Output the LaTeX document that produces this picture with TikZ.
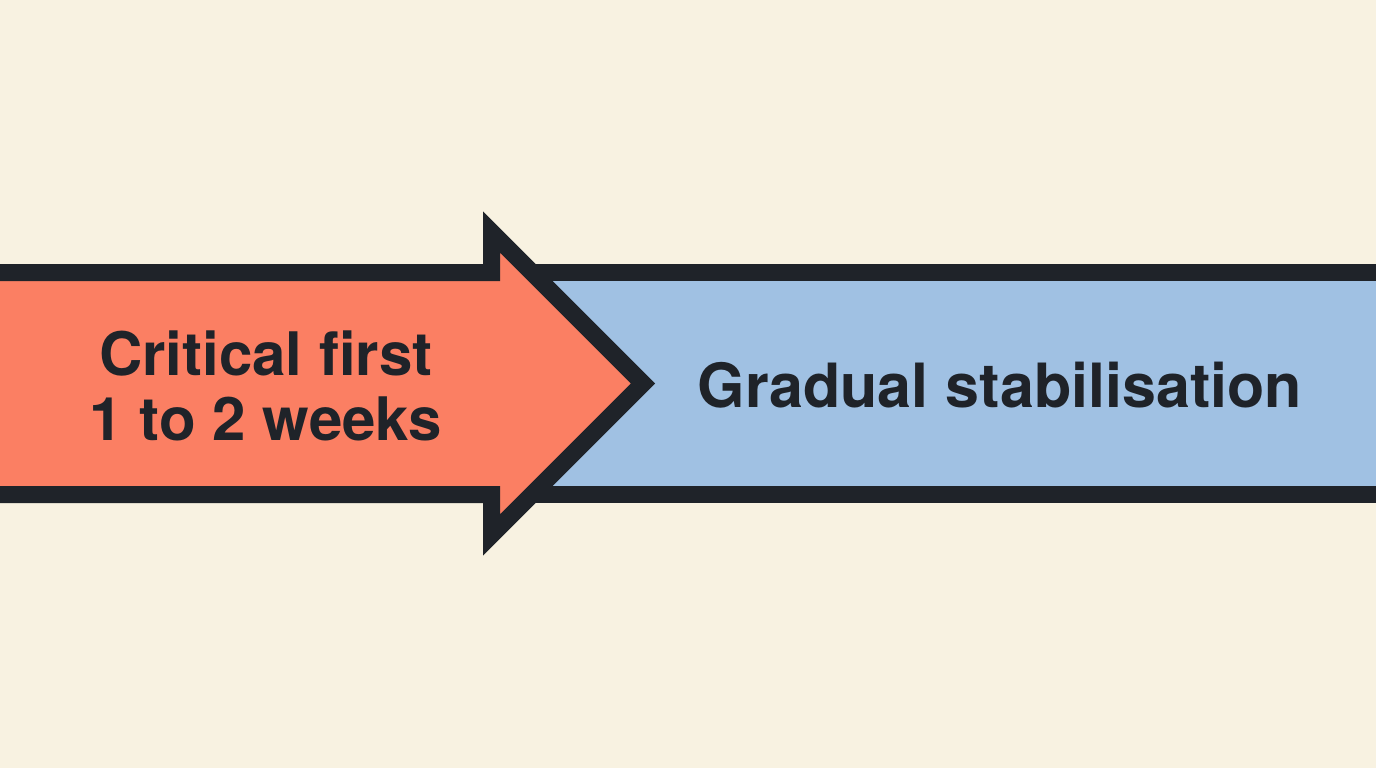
\documentclass[tikz,border=0pt]{standalone}
\usepackage{fontspec}
\setmainfont{TeX Gyre Heros}
\usepackage{tikz}
\usetikzlibrary{positioning}
\definecolor{paper}{HTML}{F8F2E1}
\definecolor{ink}{HTML}{1F2329}
\definecolor{urgent}{HTML}{FB7F63}
\definecolor{calm}{HTML}{A0C1E3}
\tikzset{
  ph band/.style={draw=ink, line width=8.5pt, miter limit=10, line join=miter},
  ph text/.style={text=ink, font=\fontsize{30}{32.5}\selectfont\bfseries, align=center, inner sep=0pt},
}

\begin{document}
\begin{tikzpicture}[x=0.5pt, y=0.5pt]
  % canvas, 1376 x 768
  \fill[paper] (0,0) rectangle (1376,768);
  \useasboundingbox (0,0) rectangle (1376,768);
  \clip (0,0) rectangle (1376,768);
  % later phase: the band running on to the right
  \filldraw[ph band, fill=calm] (-40,273.5) rectangle (1420,495.5);
  % first phase: the arrow pushing into it
  \filldraw[ph band, fill=urgent] (-40,495.5) -- (491.5,495.5) -- (491.5,536) -- (643,384.5)
     -- (491.5,233) -- (491.5,273.5) -- (-40,273.5) -- cycle;
  \node[ph text] (early) at (266,382) {Critical first\\1 to 2 weeks};
  \node[ph text, font=\fontsize{30.5}{33}\selectfont\bfseries] (late) at (1000,383) {Gradual stabilisation};
\end{tikzpicture}
\end{document}
